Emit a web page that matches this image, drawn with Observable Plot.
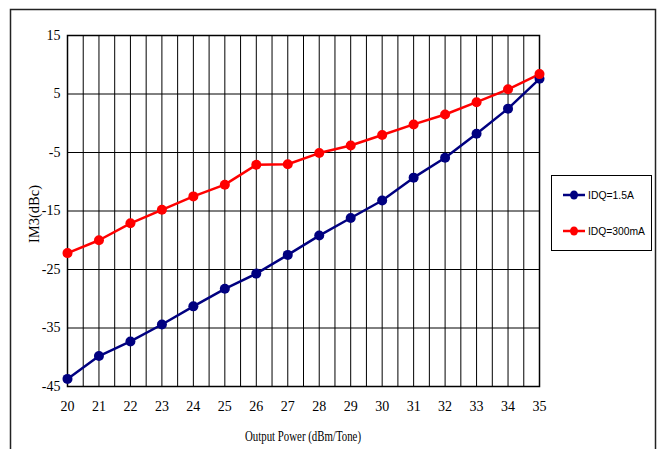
<!DOCTYPE html>
<html><head><meta charset="utf-8">
<script src="https://cdn.jsdelivr.net/npm/d3@7"></script>
<script src="https://cdn.jsdelivr.net/npm/@observablehq/plot@0.6"></script>
<style>html,body{margin:0;padding:0;background:#fff}svg{display:block}</style>
</head><body><div id="chart"></div>
<script>
const outputPower = [20,21,22,23,24,25,26,27,28,29,30,31,32,33,34,35];
const idq15A   = [-43.7,-39.8,-37.3,-34.4,-31.3,-28.3,-25.7,-22.5,-19.2,-16.2,-13.2,-9.3,-5.9,-1.8,2.5,7.6];
const idq300mA = [-22.2,-20.0,-17.1,-14.8,-12.5,-10.5,-7.1,-7.0,-5.1,-3.8,-2.0,-0.2,1.5,3.6,5.8,8.4];
const seriesNames  = ["IDQ=1.5A","IDQ=300mA"];
const seriesColors = ["#000080","#ff0000"];
const yTicks = [-45,-35,-25,-15,-5,5,15];
const xGridTicks = d3.range(20, 35.01, 0.5);
const xLabel = "Output Power (dBm/Tone)";
const yLabel = "IM3(dBc)";

const rows = [];
outputPower.forEach((x, i) => {
  rows.push({x, y: idq15A[i], s: seriesNames[0]});
  rows.push({x, y: idq300mA[i], s: seriesNames[1]});
});

const W = 657, H = 449;
const chart = Plot.plot({
  width: W, height: H,
  marginLeft: 67, marginRight: 118, marginTop: 35, marginBottom: 63,
  style: {fontFamily: "'Liberation Serif', 'Times New Roman', serif", fontSize: "14px", background: "#fff", color: "#000"},
  x: {type: "linear", domain: [20, 35]},
  y: {type: "linear", domain: [-45, 15]},
  color: {domain: seriesNames, range: seriesColors},
  marks: [
    Plot.gridX(xGridTicks, {stroke: "#000", strokeOpacity: 1, strokeWidth: 1}),
    Plot.gridY(yTicks, {stroke: "#000", strokeOpacity: 1, strokeWidth: 1}),
    Plot.frame({stroke: "#000", strokeWidth: 1.5}),
    Plot.axisX(outputPower, {tickSize: 0, tickPadding: 15, label: null, tickFormat: d => String(d)}),
    Plot.axisY(yTicks, {tickSize: 0, tickPadding: 7, label: null, tickFormat: d => String(d)}),
    Plot.line(rows, {x: "x", y: "y", z: "s", stroke: "s", strokeWidth: 2.5}),
    Plot.dot(rows, {x: "x", y: "y", fill: "s", r: 5, stroke: "none"})
  ]
});
document.getElementById("chart").append(chart);

const svg = d3.select(chart);
// outer frame
svg.append("rect").attr("x", 10.5).attr("y", 9.5).attr("width", 645).attr("height", 460)
  .attr("fill", "none").attr("stroke", "#222").attr("stroke-width", 1.5);
// x axis label
svg.append("text").attr("x", 303).attr("y", 441).attr("text-anchor", "middle")
  .attr("font-family", "'Liberation Serif', serif").attr("font-size", 14)
  .attr("textLength", 116).attr("lengthAdjust", "spacingAndGlyphs").text(xLabel);
// y axis label
svg.append("text").attr("transform", "translate(39,214) rotate(-90)").attr("text-anchor", "middle")
  .attr("font-family", "'Liberation Serif', serif").attr("font-size", 15)
  .attr("textLength", 58).attr("lengthAdjust", "spacingAndGlyphs").text(yLabel);
// legend
const lg = svg.append("g").attr("text-anchor", "start");
lg.append("rect").attr("x", 551.5).attr("y", 175.5).attr("width", 100).attr("height", 75)
  .attr("fill", "#fff").attr("stroke", "#000").attr("stroke-width", 1);
const legendY = [195, 231];
const legendW = [46, 57];
seriesNames.forEach((name, i) => {
  const y = legendY[i];
  lg.append("line").attr("x1", 563).attr("x2", 585).attr("y1", y).attr("y2", y)
    .attr("stroke", seriesColors[i]).attr("stroke-width", 2.5);
  lg.append("ellipse").attr("cx", 574).attr("cy", y).attr("rx", 4).attr("ry", 4.5).attr("fill", seriesColors[i]);
  lg.append("text").attr("x", 588).attr("y", y).attr("dy", "0.35em").attr("text-anchor", "start")
    .attr("font-family", "'Liberation Sans Narrow', 'Liberation Sans', Arial, sans-serif").attr("font-size", 11.5)
    .attr("textLength", legendW[i]).attr("lengthAdjust", "spacingAndGlyphs").text(name);
});
</script>
</body></html>
